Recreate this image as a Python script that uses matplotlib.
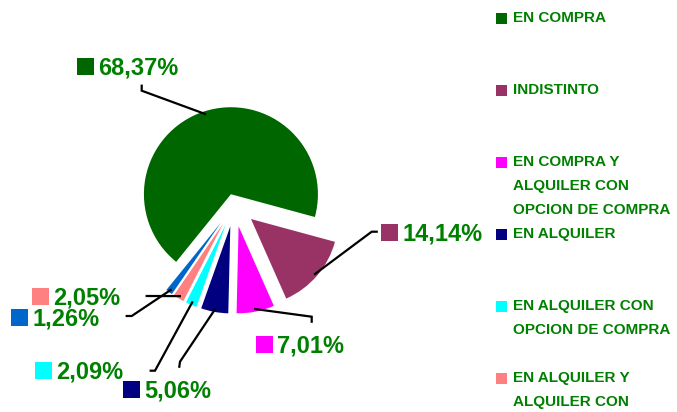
import numpy as np
import matplotlib.pyplot as plt
from matplotlib.patches import Rectangle

# data
categories = ["EN COMPRA", "INDISTINTO",
              "EN COMPRA Y\nALQUILER CON\nOPCION DE COMPRA",
              "EN ALQUILER", "EN ALQUILER CON\nOPCION DE COMPRA",
              "EN ALQUILER Y\nALQUILER CON\nOPCION DE COMPRA", "OTROS"]
shares = [68.37, 14.14, 7.01, 5.06, 2.09, 2.05, 1.26]
colors = ["#006600", "#993366", "#FF00FF", "#000080",
          "#00FFFF", "#FF8080", "#0066CC"]
explode = [11, 22, 22, 22, 22, 22, 22]

W, H = 677, 412
TXT = "#008000"


def px(x, y):
    # pixel coords (y down) -> data coords (y up)
    return x, H - y


# label layout: square top-left, leader elbow, leader end (pixels)
lab_sq = [(77, 58), (381, 224), (256, 336), (123, 381), (35, 362), (32, 288), (11, 309)]
lab_elbow = [(141.7, 90.7), (371.7, 231.7), (311.7, 316.7), (180, 361.7),
             (155, 370.7), (146.7, 296), (131.7, 316)]
lab_end = [(141.7, 85.7), (376.7, 231.7), (311.7, 321.7), (179.3, 366.7),
           (150.7, 370.7), (146.7, 296), (126.7, 316)]

fig = plt.figure(figsize=(6.77, 4.12), dpi=100)
ax = fig.add_axes([0, 0, 1, 1])
r = 87
wedges, _ = ax.pie(shares, colors=colors, startangle=231, counterclock=False,
                   radius=r, center=px(234.3, 204.7), explode=explode,
                   wedgeprops=dict(linewidth=0))
ax.set_xlim(0, W)
ax.set_ylim(0, H)
ax.axis("off")

sq = 16.5
for i, w in enumerate(wedges):
    mid = np.deg2rad((w.theta1 + w.theta2) / 2)
    sx = w.center[0] + 0.97 * r * np.cos(mid)
    sy = w.center[1] + 0.97 * r * np.sin(mid)
    ex, ey = px(*lab_elbow[i])
    fx, fy = px(*lab_end[i])
    ax.plot([sx, ex, fx], [sy, ey, fy], color="black", lw=1.6,
            solid_joinstyle="miter")
    x0, y0 = lab_sq[i]
    ax.add_patch(Rectangle(px(x0, y0 + sq), sq, sq, color=colors[i], lw=0))
    label = f"{shares[i]:.2f}".replace(".", ",") + "%"
    ax.text(*px(x0 + sq + 5, y0 + sq), label, color=TXT, fontsize=17,
            fontweight="bold", family="Liberation Sans", va="baseline")

# legend on the right (chart area ends a little above the bottom edge)
clip = Rectangle(px(0, 408), W, 408, transform=ax.transData, visible=False)
ax.add_patch(clip)
lsq = 10.7
for i, name in enumerate(categories):
    yc = 18.3 + 72 * i
    ax.add_patch(Rectangle(px(496, yc + lsq / 2), lsq, lsq, color=colors[i], lw=0))
    for j, line in enumerate(name.split("\n")):
        t = ax.text(*px(512.7, yc + 24 * j), line, color=TXT, fontsize=11,
                    fontweight="bold", family="Liberation Sans", va="center")
        t.set_clip_path(clip)

fig.savefig("out.png", dpi=100)
